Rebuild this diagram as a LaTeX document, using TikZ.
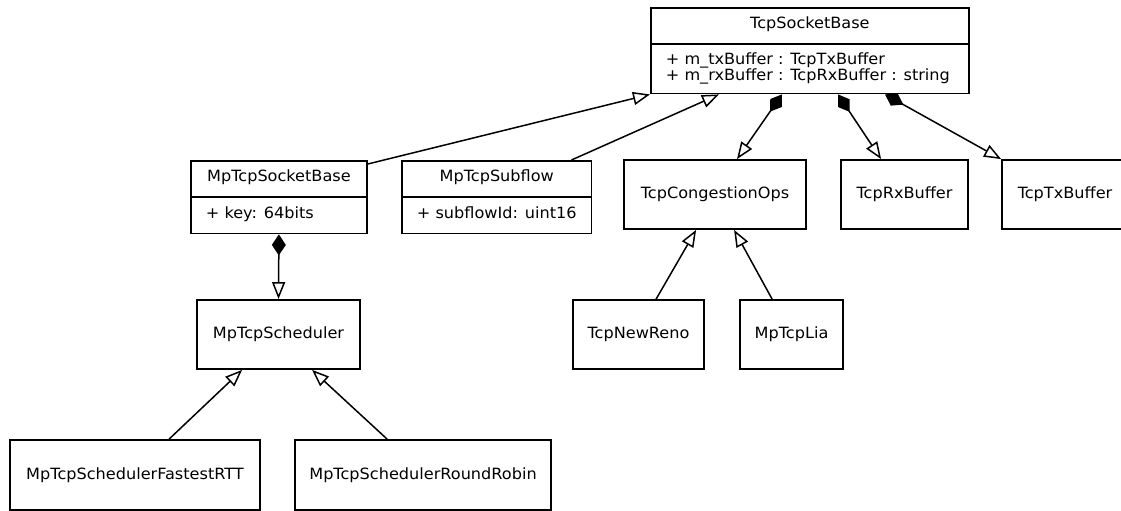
\documentclass[tikz,border=0pt]{standalone}
\usepackage{fontspec}
\setmainfont{DejaVu Sans}[FakeStretch=1.04]
\usepackage{tikz}
\usetikzlibrary{shapes.multipart}
\usetikzlibrary{arrows.meta}
\newcommand{\headstrut}{\rule[-14pt]{0pt}{34pt}}

\begin{document}
\begin{tikzpicture}[x=1pt, y=-1pt,
    font=\fontsize{15.5}{16}\selectfont,
    cls/.style={draw, line width=1.8pt, rectangle split, rectangle split parts=2,
      rectangle split part align={center,left}, align=left,
      inner xsep=15pt, inner ysep=0pt, anchor=north west},
    box/.style={draw, line width=1.8pt, minimum height=69pt, inner sep=0pt},
    inh/.style={line width=1.5pt, -{Triangle[open, length=17pt, width=13pt]}},
    comp/.style={line width=1.5pt, {Diamond[length=21pt, width=14pt]}-{Triangle[open, length=17pt, width=13pt]}}]
    \useasboundingbox (0,0) rectangle (1121,511);

    \node[cls, minimum width=318pt] (tsb) at (650,7)
      {\headstrut TcpSocketBase
       \nodepart{second}\rule{0pt}{20pt}+ m\_txBuffer : TcpTxBuffer\\
       \rule[-12pt]{0pt}{0pt}+ m\_rxBuffer : TcpRxBuffer : string};
    \node[cls, minimum width=176pt] (mtsb) at (190,160)
      {\headstrut MpTcpSocketBase
       \nodepart{second}\rule[-14pt]{0pt}{35pt}+ key: 64bits};
    \node[cls, minimum width=188pt] (sub) at (401,160)
      {\headstrut MpTcpSubflow
       \nodepart{second}\rule[-14pt]{0pt}{35pt}+ subflowId: uint16};

    \node[box, minimum width=182pt] (cong)  at (715,194.5)   {TcpCongestionOps};
    \node[box, minimum width=127pt] (rx)    at (904.5,194.5) {TcpRxBuffer};
    \node[box, minimum width=126pt] (tx)    at (1065,194.5)  {TcpTxBuffer};
    \node[box, minimum width=163pt] (sched) at (278.5,334.5) {MpTcpScheduler};
    \node[box, minimum width=131pt] (reno)  at (638.5,334.5) {TcpNewReno};
    \node[box, minimum width=103pt] (lia)   at (791.5,334.5) {MpTcpLia};
    \node[box, minimum width=250pt, minimum height=70pt] (rtt) at (135,475) {MpTcpSchedulerFastestRTT};
    \node[box, minimum width=256pt, minimum height=70pt] (rr)  at (423,475) {MpTcpSchedulerRoundRobin};

    \draw[inh] ([yshift=-4pt]mtsb.north east) -- (tsb.south west);
    \draw[inh] ([xshift=-21pt]sub.north east) -- ([xshift=69pt]tsb.south west);
    \draw[comp] ([xshift=132pt]tsb.south west) -- ([xshift=22pt]cong.north);
    \draw[comp] ([xshift=188pt]tsb.south west) -- ([xshift=41pt]rx.north west);
    \draw[comp] ([xshift=235pt]tsb.south west) -- (tx.north west);
    \draw[comp] (mtsb.south) -- (sched.north);
    \draw[inh] ([xshift=160pt]rtt.north west) -- ([xshift=46pt]sched.south west);
    \draw[inh] ([xshift=93pt]rr.north west) -- ([xshift=116pt]sched.south west);
    \draw[inh] ([xshift=84pt]reno.north west) -- ([xshift=73pt]cong.south west);
    \draw[inh] ([xshift=33pt]lia.north west) -- ([xshift=111pt]cong.south west);
\end{tikzpicture}
\end{document}
